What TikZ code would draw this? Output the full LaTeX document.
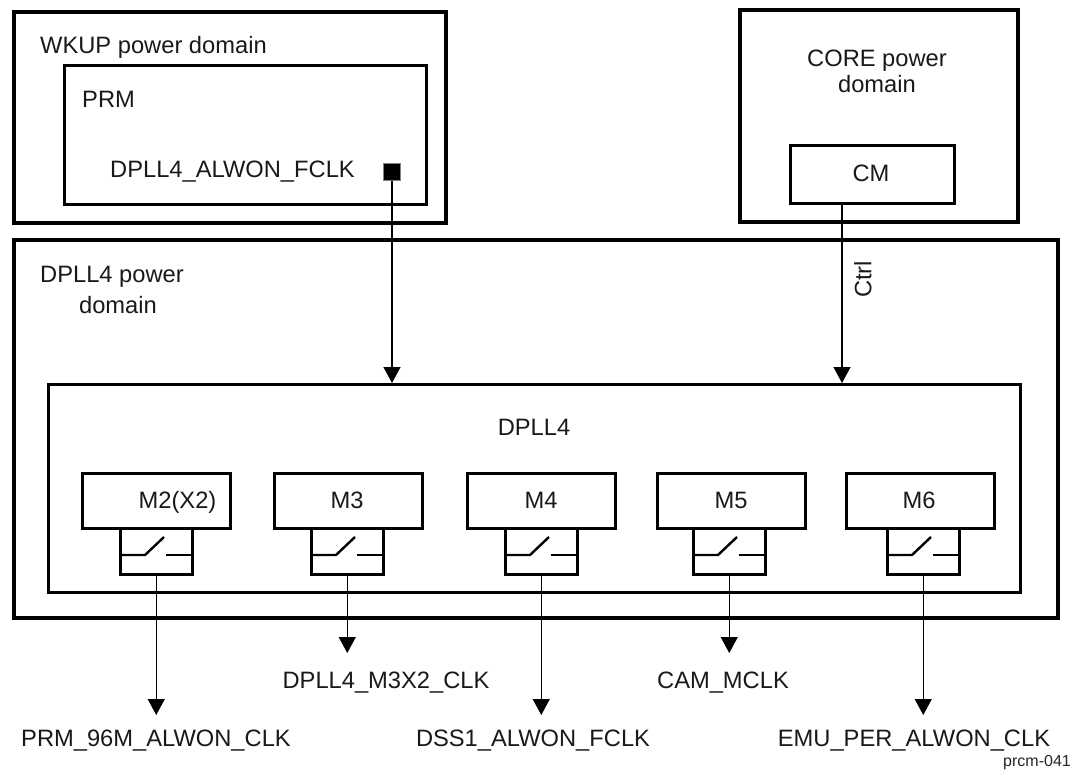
\documentclass[tikz,border=0pt]{standalone}
\usepackage{fontspec}
\setmainfont{Liberation Sans}
\usetikzlibrary{arrows.meta}
\begin{document}
\begin{tikzpicture}[x=1pt,y=-1pt,
  thickbox/.style={draw, line width=4pt, inner sep=0, anchor=north west},
  midbox/.style={draw, line width=2.6pt, inner sep=0, anchor=north west},
  mbox/.style={draw, line width=2.5pt, inner sep=0, anchor=north west, minimum width=148pt, minimum height=55pt},
  swbox/.style={draw, line width=2.5pt, inner sep=0, anchor=north west, minimum width=72pt, minimum height=46pt},
  swline/.style={line width=2.4pt},
  txt/.style={inner sep=0, font=\fontsize{23.7}{28}\selectfont, text=black!90},
  arr/.style={line width=1.3pt, -{Triangle[width=17pt,length=16pt]}},
]
\useasboundingbox (0,0) rectangle (1072,772);

% domain boxes
\node[thickbox, minimum width=432pt, minimum height=211pt] (wkup) at (12,10) {};
\node[midbox, minimum width=362pt, minimum height=139pt] (prm) at (63,64) {};
\node[thickbox, minimum width=278pt, minimum height=212pt] (core) at (738,8) {};
\node[midbox, minimum width=164pt, minimum height=58pt] (cm) at (789,144) {};
\node[thickbox, minimum width=1044pt, minimum height=378pt] (dom) at (12,238) {};
\node[midbox, minimum width=972pt, minimum height=208pt] (dpll) at (47,383) {};

% texts
\node[txt, anchor=base west] (twkup) at (40,53) {WKUP power domain};
\node[txt, anchor=base west] (tprm) at (82,107) {PRM};
\node[txt, anchor=base west] (tfclk) at (110,177) {DPLL4\_ALWON\_FCLK};
\node[txt, anchor=base] (tcore1) at (877,66) {CORE power};
\node[txt, anchor=base] (tcore2) at (877,92) {domain};
\node[txt, anchor=base] (tcm) at (871,181) {CM};
\node[txt, anchor=base] (tdom1) at (112,282) {DPLL4 power};
\node[txt, anchor=base] (tdom2) at (118,313) {domain};
\node[txt, anchor=base] (tdpll) at (534,435) {DPLL4};

% square source
\node[fill=black, draw=gray, line width=0.5pt, minimum size=17pt, inner sep=0] (sq) at (392,172) {};
\draw[arr] (sq.south) -- (sq.south |- dpll.north);

% Ctrl
\coordinate (ctrlx) at (842,0);
\draw[arr] (cm.south -| ctrlx) -- (ctrlx |- dpll.north);
\node[txt, rotate=90] (tctrl) at (863,279.5) {Ctrl};

% M boxes and switches
\node[mbox] (m2) at (81,472) {};
\node[mbox] (m3) at (273,472) {};
\node[mbox] (m4) at (466,472) {};
\node[mbox] (m5) at (656,472) {};
\node[mbox] (m6) at (845,472) {};
\node[txt, anchor=base] (tm2) at (177.5,508) {M2(X2)};
\node[txt, anchor=base] (tm3) at (347,508) {M3};
\node[txt, anchor=base] (tm4) at (541,508) {M4};
\node[txt, anchor=base] (tm5) at (731,508) {M5};
\node[txt, anchor=base] (tm6) at (919,508) {M6};

\node[swbox] (sw2) at (119,527) {};
\node[swbox] (sw3) at (310,527) {};
\node[swbox] (sw4) at (504,527) {};
\node[swbox] (sw5) at (692,527) {};
\node[swbox] (sw6) at (886,527) {};
\foreach \s in {sw2,sw3,sw4,sw5,sw6}{
  \draw[swline] ([yshift=-28pt]\s.north west) -- ++(26,0) -- ++(19,-18);
  \draw[swline] ([yshift=-28pt]\s.north east) -- ++(-28,0);
}

% output labels
\node[txt, anchor=base] (o2) at (156,746) {PRM\_96M\_ALWON\_CLK};
\node[txt, anchor=base] (o3) at (386,688) {DPLL4\_M3X2\_CLK};
\node[txt, anchor=base] (o4) at (533,746) {DSS1\_ALWON\_FCLK};
\node[txt, anchor=base] (o5) at (723,688) {CAM\_MCLK};
\node[txt, anchor=base] (o6) at (914,746) {EMU\_PER\_ALWON\_CLK};
\coordinate (t2) at ([yshift=31pt]o2.base);
\coordinate (t3) at ([yshift=35pt]o3.base);
\coordinate (t4) at ([yshift=31pt]o4.base);
\coordinate (t5) at ([yshift=35pt]o5.base);
\coordinate (t6) at ([yshift=31pt]o6.base);
\draw[arr] (sw2.south) -- (sw2.south |- t2);
\draw[arr] (sw3.south) -- (sw3.south |- t3);
\draw[arr] (sw4.south) -- (sw4.south |- t4);
\draw[arr] (sw5.south) -- (sw5.south |- t5);
\draw[arr] (sw6.south) -- (sw6.south |- t6);

\node[inner sep=0, font=\fontsize{16}{18}\selectfont, text=black!85, anchor=base east] (fig) at (1071,766) {prcm-041};
\end{tikzpicture}
\end{document}
